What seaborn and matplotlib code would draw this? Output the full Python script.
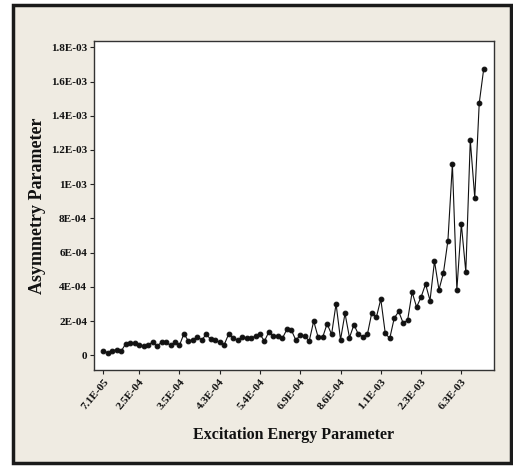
import matplotlib
matplotlib.use("Agg")
import matplotlib.pyplot as plt
import seaborn as sns
import numpy as np
import pandas as pd
from matplotlib.patches import Rectangle

# ---- data ----
asymmetry = [
    2.7e-5, 1.4e-5, 2.7e-5, 3.3e-5, 2.5e-5, 6.8e-5, 7.2e-5, 7.0e-5, 6.0e-5, 5.4e-5,
    6.0e-5, 7.8e-5, 5.2e-5, 7.8e-5, 7.6e-5, 5.8e-5, 7.6e-5, 5.8e-5, 1.26e-4, 8.3e-5,
    9.1e-5, 1.07e-4, 9.1e-5, 1.22e-4, 9.3e-5, 8.7e-5, 7.6e-5, 6.2e-5, 1.24e-4, 1.01e-4,
    8.7e-5, 1.07e-4, 9.9e-5, 9.9e-5, 1.13e-4, 1.22e-4, 8.3e-5, 1.38e-4, 1.11e-4, 1.11e-4,
    9.9e-5, 1.51e-4, 1.48e-4, 8.9e-5, 1.17e-4, 1.13e-4, 8.3e-5, 2.0e-4, 1.05e-4, 1.05e-4,
    1.84e-4, 1.22e-4, 3.01e-4, 9.1e-5, 2.45e-4, 1.03e-4, 1.79e-4, 1.22e-4, 1.09e-4, 1.22e-4,
    2.5e-4, 2.21e-4, 3.28e-4, 1.28e-4, 9.9e-5, 2.17e-4, 2.56e-4, 1.88e-4, 2.06e-4, 3.69e-4,
    2.82e-4, 3.40e-4, 4.16e-4, 3.20e-4, 5.50e-4, 3.83e-4, 4.82e-4, 6.70e-4, 1.117e-3, 3.83e-4,
    7.67e-4, 4.87e-4, 1.258e-3, 9.20e-4, 1.474e-3, 1.674e-3,
]
x_tick_positions = [0, 8, 17, 26, 35, 44, 53, 62, 71, 80]
x_tick_labels = ["7.1E-05", "2.5E-04", "3.5E-04", "4.3E-04", "5.4E-04",
                 "6.9E-04", "8.6E-04", "1.1E-03", "2.3E-03", "6.3E-03"]
y_tick_values = [0, 2e-4, 4e-4, 6e-4, 8e-4, 1e-3, 1.2e-3, 1.4e-3, 1.6e-3, 1.8e-3]
y_tick_labels = ["0", "2E-04", "4E-04", "6E-04", "8E-04", "1E-03",
                 "1.2E-03", "1.4E-03", "1.6E-03", "1.8E-03"]
x_label = "Excitation Energy Parameter"
y_label = "Asymmetry Parameter"

df = pd.DataFrame({"idx": np.arange(len(asymmetry)), "val": asymmetry})

sns.set_theme(style="white")
plt.rcParams["font.family"] = ["Liberation Serif", "DejaVu Serif"]

W, H = 513, 466
fig = plt.figure(figsize=(W / 100, H / 100), dpi=100, facecolor="white")

# beige panel with dark frame
frame = Rectangle((13 / W, 1 - 463 / H), (511 - 13) / W, (463 - 5) / H,
                  transform=fig.transFigure, facecolor="#EFEBE2",
                  edgecolor="#1a1a1a", linewidth=2.5, zorder=-10)
fig.patches.append(frame)

ax = fig.add_axes([94 / W, 1 - 370 / H, (494 - 94) / W, (370 - 41) / H])
ax.set_zorder(5)
ax.set_facecolor("white")

sns.lineplot(data=df, x="idx", y="val", ax=ax, color="#111111",
             linewidth=0.8, marker="o", markersize=3.4,
             markeredgecolor="#111111", markerfacecolor="#111111")

ax.set_xlim(-2.1, 87.3)
ax.set_ylim(-8.6e-5, 1.837e-3)

ax.set_xticks(x_tick_positions)
ax.set_xticklabels(x_tick_labels, rotation=50, ha="right",
                   rotation_mode="anchor", fontsize=8.2, fontweight="bold")
ax.set_yticks(y_tick_values)
ax.set_yticklabels(y_tick_labels, fontsize=8, fontweight="bold")

ax.tick_params(axis="both", which="both", direction="out", length=3,
               width=0.8, color="#222222", pad=2, labelcolor="#111111",
               bottom=True, left=True, top=False, right=False)

for s in ax.spines.values():
    s.set_color("#333333")
    s.set_linewidth(1.0)

ax.set_xlabel(x_label, fontsize=11.5, fontweight="bold", color="#111111")
ax.set_ylabel(y_label, fontsize=13, fontweight="bold", color="#111111")
ax.yaxis.set_label_coords(-0.12, 0.5)
ax.xaxis.set_label_coords(0.5, -0.172)

fig.savefig("out.png", dpi=100, facecolor=fig.get_facecolor())
